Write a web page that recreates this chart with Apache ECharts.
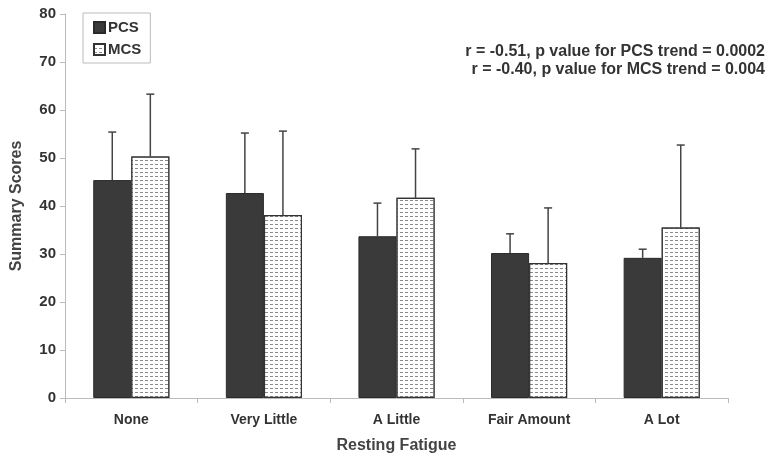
<!DOCTYPE html>
<html><head><meta charset="utf-8">
<script src="https://cdn.jsdelivr.net/npm/echarts@6/dist/echarts.min.js"></script>
<style>html,body{margin:0;padding:0;background:#fff}#c{width:773px;height:462px}</style>
</head><body><div id="c"></div>
<script>
const categories = ['None', 'Very Little', 'A Little', 'Fair Amount', 'A Lot'];
const pcsValues = [45.4, 42.7, 33.7, 30.2, 29.2];
const pcsErrors = [10.0, 12.5, 6.9, 4.0, 1.8];
const mcsValues = [50.3, 38.1, 41.7, 28.1, 35.5];
const mcsErrors = [13.0, 17.5, 10.2, 11.5, 17.2];
const yTicks = [0, 10, 20, 30, 40, 50, 60, 70, 80];
const annotations = ['r = -0.51, p value for PCS trend = 0.0002', 'r = -0.40, p value for MCS trend = 0.004'];

const BAR_RATIO = 0.287;
const font = '"Liberation Sans", Arial, sans-serif';
const narrow = '"Liberation Sans Narrow", "Liberation Sans", Arial, sans-serif';

function errSeries(vals, errs, side) {
  return {
    type: 'custom',
    z: 1,
    silent: true,
    encode: { x: 0, y: 1 },
    data: vals.map((v, i) => [i, v, errs[i]]),
    renderItem: function (params, api) {
      const i = api.value(0), v = api.value(1), e = api.value(2);
      const base = api.coord([i, v]);
      const top = api.coord([i, v + e]);
      const bw = api.size([1, 0])[0];
      const x = base[0] + side * bw * BAR_RATIO / 2;
      const st = { stroke: '#444', lineWidth: 1.5 };
      return {
        type: 'group',
        children: [
          { type: 'line', shape: { x1: x, y1: base[1], x2: x, y2: top[1] }, style: st },
          { type: 'line', shape: { x1: x - 4, y1: top[1], x2: x + 4, y2: top[1] }, style: st }
        ]
      };
    }
  };
}

const mcsDecal = {
  symbol: 'rect',
  symbolSize: 1,
  color: '#8a8a8a',
  backgroundColor: '#fff',
  dashArrayX: [3, 2],
  dashArrayY: [1, 2.5],
  rotation: 0
};

const chart = echarts.init(document.getElementById('c'), null, { renderer: 'canvas' });
chart.setOption({
  animation: false,
  backgroundColor: '#fff',
  grid: { left: 65, right: 45, top: 14, bottom: 64 },
  legend: {
    data: [{ name: 'PCS', icon: 'rect' }, { name: 'MCS', icon: 'rect' }],
    orient: 'vertical',
    left: 83,
    top: 13,
    itemWidth: 11,
    itemHeight: 11,
    itemGap: 7,
    padding: [7, 9, 6, 10],
    borderColor: '#bbb',
    borderWidth: 1,
    textStyle: { fontFamily: font, fontWeight: 'bold', fontSize: 15, color: '#333', padding: [0, 0, 0, -2] }
  },
  graphic: annotations.map((t, k) => ({
    type: 'text',
    right: 8,
    top: 44 + k * 18,
    style: { text: t, fontFamily: font, fontWeight: 'bold', fontSize: 16, fill: '#333' }
  })),
  xAxis: {
    type: 'category',
    data: categories,
    name: 'Resting Fatigue',
    nameLocation: 'middle',
    nameGap: 40,
    nameTextStyle: { fontFamily: narrow, fontWeight: 'bold', fontSize: 16, color: '#444' },
    axisLine: { lineStyle: { color: '#bbb', width: 1 } },
    axisTick: { show: true, alignWithLabel: false, length: 5, lineStyle: { color: '#bbb' } },
    axisLabel: { fontFamily: narrow, fontWeight: 'bold', fontSize: 14, color: '#333', margin: 15 }
  },
  yAxis: {
    type: 'value',
    min: 0,
    max: 80,
    interval: 10,
    name: 'Summary Scores',
    nameLocation: 'middle',
    nameGap: 40,
    nameTextStyle: { fontFamily: font, fontWeight: 'bold', fontSize: 16, color: '#444' },
    axisLine: { show: true, lineStyle: { color: '#bbb', width: 1 } },
    axisTick: { show: true, length: 5, lineStyle: { color: '#bbb' } },
    splitLine: { show: false },
    axisLabel: {
      fontFamily: font, fontWeight: 'bold', fontSize: 15, color: '#333', margin: 9,
      formatter: v => yTicks.includes(v) ? String(v) : ''
    }
  },
  series: [
    {
      name: 'PCS', type: 'bar', data: pcsValues, barWidth: (BAR_RATIO * 100) + '%', barGap: '0%', z: 2,
      itemStyle: { color: '#3a3a3a', borderColor: '#2a2a2a', borderWidth: 1 }
    },
    {
      name: 'MCS', type: 'bar', data: mcsValues, barWidth: (BAR_RATIO * 100) + '%', barGap: '0%', z: 2,
      itemStyle: { color: '#fff', borderColor: '#333', borderWidth: 1.2, decal: mcsDecal }
    },
    errSeries(pcsValues, pcsErrors, -1),
    errSeries(mcsValues, mcsErrors, 1)
  ]
});
</script></body></html>
